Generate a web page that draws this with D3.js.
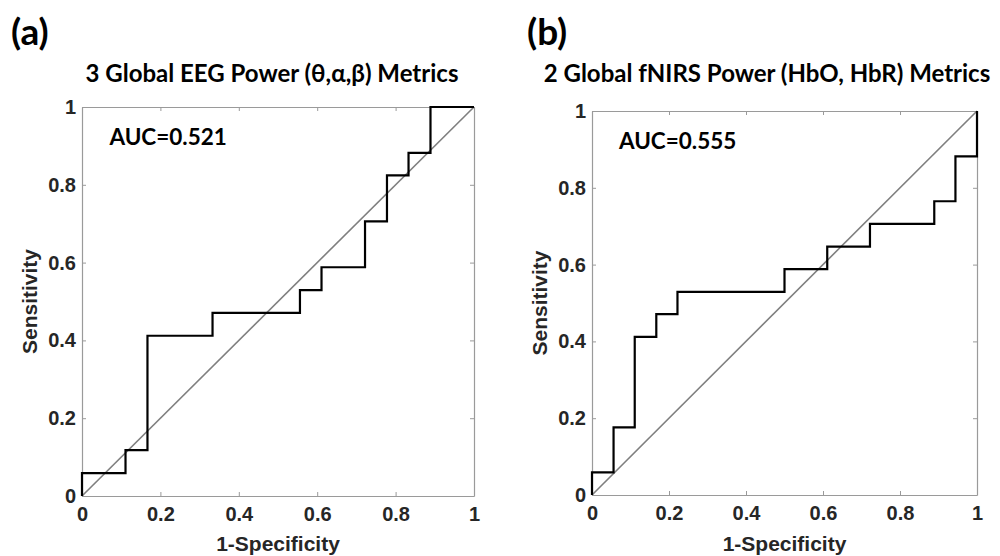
<!DOCTYPE html>
<html>
<head>
<meta charset="utf-8">
<script src="https://cdn.jsdelivr.net/npm/d3@7"></script>
<style>
  body { margin: 0; background: #fff; }
  svg { display: block; }
</style>
</head>
<body>
<svg id="chart" width="1000" height="556"></svg>
<script>
// ROC corners
var eegFpr = [0, 0, 0.111, 0.111, 0.167, 0.167, 0.333, 0.333, 0.556, 0.556, 0.611, 0.611, 0.722, 0.722, 0.778, 0.778, 0.833, 0.833, 0.889, 0.889, 1];
var eegTpr = [0, 0.059, 0.059, 0.118, 0.118, 0.412, 0.412, 0.471, 0.471, 0.529, 0.529, 0.588, 0.588, 0.706, 0.706, 0.824, 0.824, 0.882, 0.882, 1, 1];

var nirsFpr = [0, 0, 0.056, 0.056, 0.111, 0.111, 0.167, 0.167, 0.222, 0.222, 0.5, 0.5, 0.611, 0.611, 0.722, 0.722, 0.889, 0.889, 0.944, 0.944, 1, 1];
var nirsTpr = [0, 0.059, 0.059, 0.176, 0.176, 0.412, 0.412, 0.471, 0.471, 0.529, 0.529, 0.588, 0.588, 0.647, 0.647, 0.706, 0.706, 0.765, 0.765, 0.882, 0.882, 1];

var tickValues = [0, 0.2, 0.4, 0.6, 0.8, 1];
var chanceLine = [0, 1];

var panels = [
  { tag: "(a)", title: "3 Global EEG Power (\u03b8,\u03b1,\u03b2) Metrics", auc: "AUC=0.521",
    fpr: eegFpr, tpr: eegTpr,
    box: { left: 82, right: 474, top: 107, bottom: 496 },
    tagX: 11, titleX: 272, ylabX: 30 },
  { tag: "(b)", title: "2 Global fNIRS Power (HbO, HbR) Metrics", auc: "AUC=0.555",
    fpr: nirsFpr, tpr: nirsTpr,
    box: { left: 592, right: 977, top: 111, bottom: 495 },
    tagX: 527, titleX: 767, ylabX: 540 }
];

var svg = d3.select("#chart");
var fmt = d3.format("~g");
var boxColor = "#9a9a9a";

panels.forEach(function(p){
  var b = p.box;
  var w = b.right - b.left;
  var h = b.bottom - b.top;

  var x = d3.scaleLinear().domain([0, 1]).range([0, w]);
  var y = d3.scaleLinear().domain([0, 1]).range([h, 0]);

  // panel tag + title
  svg.append("text")
    .attr("x", p.tagX).attr("y", 45)
    .attr("font-family", "Lato, 'Open Sans', sans-serif")
    .attr("font-weight", "bold")
    .attr("font-size", 37)
    .text(p.tag);

  svg.append("text")
    .attr("x", p.titleX).attr("y", 82)
    .attr("text-anchor", "middle")
    .attr("font-family", "Lato, 'Open Sans', sans-serif")
    .attr("font-weight", "bold")
    .attr("font-size", 24)
    .text(p.title);

  var g = svg.append("g")
    .attr("transform", "translate(" + b.left + "," + b.top + ")");

  // axes, ticks pointing inward
  var xAxis = d3.axisBottom(x).tickValues(tickValues).tickFormat(fmt)
    .tickSizeInner(-4).tickSizeOuter(0).tickPadding(11);
  var yAxis = d3.axisLeft(y).tickValues(tickValues).tickFormat(fmt)
    .tickSizeInner(-4).tickSizeOuter(0).tickPadding(6);

  var gx = g.append("g").attr("transform", "translate(0," + h + ")").call(xAxis);
  var gy = g.append("g").call(yAxis);
  var gt = g.append("g").call(d3.axisTop(x).tickValues(tickValues).tickFormat("")
    .tickSizeInner(-4).tickSizeOuter(0));
  var gr = g.append("g").attr("transform", "translate(" + w + ",0)")
    .call(d3.axisRight(y).tickValues(tickValues).tickFormat("")
    .tickSizeInner(-4).tickSizeOuter(0));

  [gx, gy, gt, gr].forEach(function(a){
    a.selectAll(".domain").attr("stroke", boxColor).attr("stroke-width", 1.2);
    a.selectAll(".tick line").attr("stroke", boxColor);
    a.selectAll(".tick text")
      .attr("font-family", "'Liberation Sans', Arial, sans-serif")
      .attr("font-weight", "bold")
      .attr("font-size", 20)
      .attr("fill", "#262626");
  });

  // chance diagonal
  g.append("line")
    .attr("x1", x(chanceLine[0])).attr("y1", y(chanceLine[0]))
    .attr("x2", x(chanceLine[1])).attr("y2", y(chanceLine[1]))
    .attr("stroke", "#7f7f7f")
    .attr("stroke-width", 1.6);

  // ROC step curve
  var pts = p.fpr.map(function(v, i){ return [v, p.tpr[i]]; });
  var line = d3.line()
    .x(function(d){ return x(d[0]); })
    .y(function(d){ return y(d[1]); });

  g.append("path")
    .datum(pts)
    .attr("d", line)
    .attr("fill", "none")
    .attr("stroke", "#000")
    .attr("stroke-width", 2.2);

  // AUC
  g.append("text")
    .attr("x", x(0.07)).attr("y", 38)
    .attr("font-family", "Lato, 'Open Sans', sans-serif")
    .attr("font-weight", "bold")
    .attr("font-size", 22.5)
    .text(p.auc);

  // axis labels
  svg.append("text")
    .attr("x", (b.left + b.right) / 2).attr("y", 551)
    .attr("text-anchor", "middle")
    .attr("font-family", "'Liberation Sans', Arial, sans-serif")
    .attr("font-weight", "bold")
    .attr("font-size", 21)
    .attr("fill", "#262626")
    .text("1-Specificity");

  svg.append("text")
    .attr("transform", "translate(" + (p.ylabX + 7) + "," + ((b.top + b.bottom) / 2) + ") rotate(-90)")
    .attr("text-anchor", "middle")
    .attr("font-family", "'Liberation Sans', Arial, sans-serif")
    .attr("font-weight", "bold")
    .attr("font-size", 21)
    .attr("fill", "#262626")
    .text("Sensitivity");
});
</script>
</body>
</html>
